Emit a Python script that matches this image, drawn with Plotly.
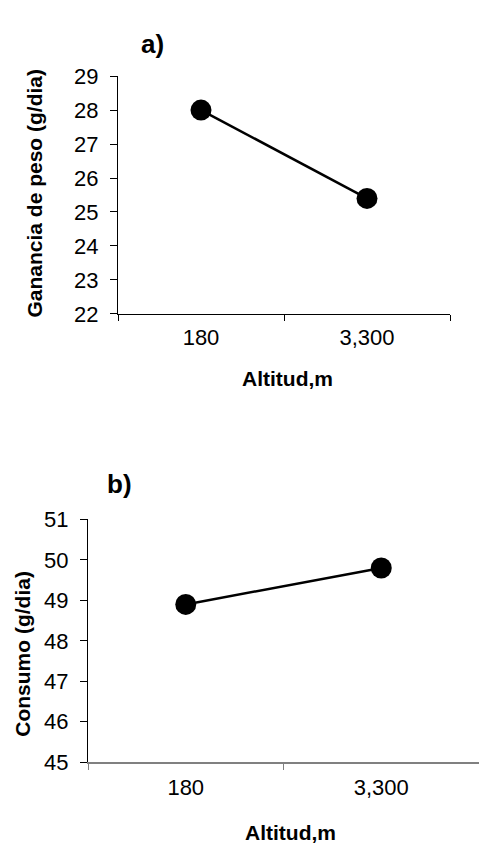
import plotly.graph_objects as go

W, H = 479, 857

# Data
altitudes = ["180", "3,300"]
ganancia = [28.0, 25.4]
consumo = [48.9, 49.8]

panel_labels = ["a)", "b)"]
y_titles = ["Ganancia de peso (g/dia)", "Consumo (g/dia)"]
x_title = "Altitud,m"

FONT = "Liberation Sans, Arial, sans-serif"

def px_x(x):
    return x / W

def px_y(y):
    return 1 - y / H

fig = go.Figure()

marker = dict(size=21, color="black")
line = dict(color="black", width=2.5)

fig.add_trace(go.Scatter(x=altitudes, y=ganancia, mode="lines+markers",
                         marker=marker, line=line, xaxis="x", yaxis="y",
                         showlegend=False, cliponaxis=False, hoverinfo="skip"))
fig.add_trace(go.Scatter(x=altitudes, y=consumo, mode="lines+markers",
                         marker=marker, line=line, xaxis="x2", yaxis="y2",
                         showlegend=False, cliponaxis=False, hoverinfo="skip"))

tickfont = dict(family=FONT, size=22, color="black")

common_x = dict(type="category", tickson="boundaries", range=[-0.5, 1.5],
                ticks="outside", ticklen=6, showgrid=False, zeroline=False,
                showline=True, tickfont=tickfont, ticklabelstandoff=4)
common_y = dict(ticks="outside", ticklen=7, dtick=1, showgrid=False,
                zeroline=False, showline=True, linecolor="black", linewidth=1,
                tickcolor="black", tickfont=tickfont, ticklabelstandoff=7)

fig.update_layout(
    width=W, height=H,
    margin=dict(l=0, r=0, t=0, b=0),
    paper_bgcolor="white", plot_bgcolor="white",
    font=dict(family=FONT, color="black"),
    xaxis=dict(domain=[px_x(118), px_x(450)], anchor="y",
               linecolor="black", linewidth=1.3, tickcolor="black", **common_x),
    yaxis=dict(domain=[px_y(311), px_y(66)], anchor="x", range=[22, 29],
               **common_y),
    xaxis2=dict(domain=[px_x(88), 1.0], anchor="y2",
                linecolor="#808080", linewidth=2, tickcolor="#808080",
                **common_x),
    yaxis2=dict(domain=[px_y(772.7), px_y(522.7)], anchor="x2", range=[45, 51],
                **common_y),
)

ann = []
# panel labels
ann.append(dict(text="<b>" + panel_labels[0] + "</b>", x=px_x(152), y=px_y(33),
                font=dict(size=26)))
ann.append(dict(text="<b>" + panel_labels[1] + "</b>", x=px_x(119), y=px_y(486),
                font=dict(size=26)))
# y titles
ann.append(dict(text="<b>" + y_titles[0] + "</b>", x=px_x(35), y=px_y(187),
                textangle=-90, font=dict(size=21)))
ann.append(dict(text="<b>" + y_titles[1] + "</b>", x=px_x(23), y=px_y(661),
                textangle=-90, font=dict(size=21)))
# x titles
ann.append(dict(text="<b>" + x_title + "</b>", x=px_x(287), y=px_y(377),
                font=dict(size=21)))
ann.append(dict(text="<b>" + x_title + "</b>", x=px_x(290), y=px_y(845),
                font=dict(size=21)))

for a in ann:
    a.update(xref="paper", yref="paper", showarrow=False,
             xanchor="center", yanchor="middle")
    a["font"].update(family=FONT, color="black")
fig.update_layout(annotations=ann)

fig.write_html("out.html",
               config={"displayModeBar": False},
               post_script="document.body.style.margin='0';"
                           "document.body.style.overflow='hidden';")
